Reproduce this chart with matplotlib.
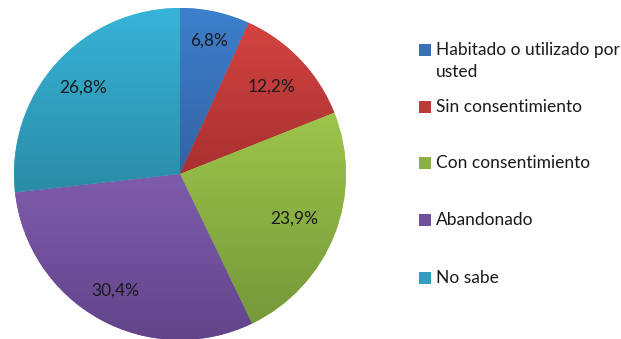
import numpy as np
import matplotlib.pyplot as plt
from matplotlib.colors import LinearSegmentedColormap, to_rgb

# --- data ---
categories = ["Habitado o utilizado por\nusted", "Sin consentimiento",
              "Con consentimiento", "Abandonado", "No sabe"]
values = [6.8, 12.2, 23.9, 30.4, 26.8]
top_colors = ["#3d80cc", "#d34442", "#9dc54b", "#7f5cab", "#38b4d9"]
bottom_colors = ["#3462a4", "#a8302f", "#76983a", "#61448a", "#2a8ca6"]

plt.rcParams['font.family'] = ['Lato', 'DejaVu Sans']

W, H = 621, 339
fig = plt.figure(figsize=(W / 100, H / 100), dpi=100)
ax = fig.add_axes([0, 0, 1, 1])
ax.axis('off')

cx, cy, r = 180, H - 174, 166
wedges, _ = ax.pie(values, startangle=90, counterclock=False,
                   center=(cx, cy), radius=r, colors=top_colors,
                   wedgeprops=dict(linewidth=0))
ax.set_xlim(0, W)
ax.set_ylim(0, H)
ax.set_aspect('equal')

# vertical gradient inside each slice
for w, c0, c1 in zip(wedges, top_colors, bottom_colors):
    ext = w.get_path().get_extents()
    cmap = LinearSegmentedColormap.from_list("g", [c1, c0])
    grad = np.linspace(0, 1, 256).reshape(-1, 1)
    im = ax.imshow(grad, cmap=cmap, origin='lower', aspect='auto',
                   extent=(ext.x0, ext.x1, ext.y0, ext.y1), zorder=2)
    im.set_clip_path(w)

# percentage labels
label_dist = [0.82, 0.76, 0.74, 0.80, 0.78]
for w, v, d in zip(wedges, values, label_dist):
    ang = np.deg2rad((w.theta1 + w.theta2) / 2)
    ax.text(cx + d * r * np.cos(ang), cy + d * r * np.sin(ang),
            f"{v:.1f}%".replace('.', ','), ha='center', va='center',
            fontsize=12.5, color='#1a1a1a', zorder=3)

# legend
legend_y = [50, 107, 163, 220, 278]
for lab, y, c0, c1 in zip(categories, legend_y, top_colors, bottom_colors):
    mid = tuple((a + b) / 2 for a, b in zip(to_rgb(c0), to_rgb(c1)))
    ax.add_patch(plt.Rectangle((419, H - y - 6), 12, 12, color=mid, lw=0))
    for i, line in enumerate(lab.split('\n')):
        ax.text(436, H - y - 22 * i, line, ha='left', va='center',
                fontsize=12.5, color='#1a1a1a')

fig.savefig("out.png", dpi=100)
